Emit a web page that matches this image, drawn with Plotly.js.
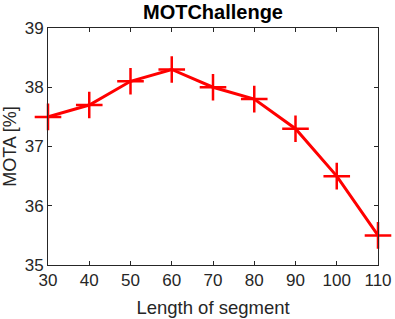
<!DOCTYPE html>
<html>
<head>
<meta charset="utf-8">
<script src="https://cdn.plot.ly/plotly-3.0.1.min.js"></script>
<style>html,body{margin:0;padding:0;background:#fff;}#chart{width:395px;height:319px;}</style>
</head>
<body>
<div id="chart"></div>
<script>
const segmentLength = [30, 40, 50, 60, 70, 80, 90, 100, 110];
const motaValues = [37.5, 37.7, 38.1, 38.3, 38.0, 37.8, 37.3, 36.5, 35.5];
const xTickVals = [30, 40, 50, 60, 70, 80, 90, 100, 110];
const yTickVals = [35, 36, 37, 38, 39];

const fam = 'Liberation Sans, Arial, sans-serif';
const axisCommon = {
  showline: true, linecolor: '#262626', linewidth: 1, mirror: 'ticks',
  ticks: 'inside', ticklen: 4, tickwidth: 1, tickcolor: '#262626',
  showgrid: false, zeroline: false,
  tickfont: {family: fam, size: 17, color: '#262626'}
};

Plotly.newPlot('chart', [{
  x: segmentLength, y: motaValues, type: 'scatter', mode: 'lines+markers',
  line: {color: '#ff0000', width: 3},
  marker: {symbol: 'cross-thin-open', size: 19, color: '#ff0000', line: {color: '#ff0000', width: 2.5}},
  cliponaxis: false
}], {
  width: 395, height: 319,
  margin: {l: 48, r: 17, t: 28, b: 54},
  paper_bgcolor: '#fff', plot_bgcolor: '#fff',
  showlegend: false,
  title: {text: '<b>MOTChallenge</b>', xref: 'paper', x: 0.5, xanchor: 'center', yref: 'container', y: 0.961, yanchor: 'middle',
    font: {family: fam, size: 20, color: '#000'}},
  xaxis: Object.assign({}, axisCommon, {range: [30, 110], tickvals: xTickVals,
    title: {text: 'Length of segment', standoff: 11, font: {family: fam, size: 18.5, color: '#262626'}}}),
  yaxis: Object.assign({}, axisCommon, {range: [35, 39], tickvals: yTickVals,
    title: {text: 'MOTA [%]', standoff: 6, font: {family: fam, size: 18, color: '#262626'}}})
}, {staticPlot: true, displayModeBar: false});
</script>
</body>
</html>
